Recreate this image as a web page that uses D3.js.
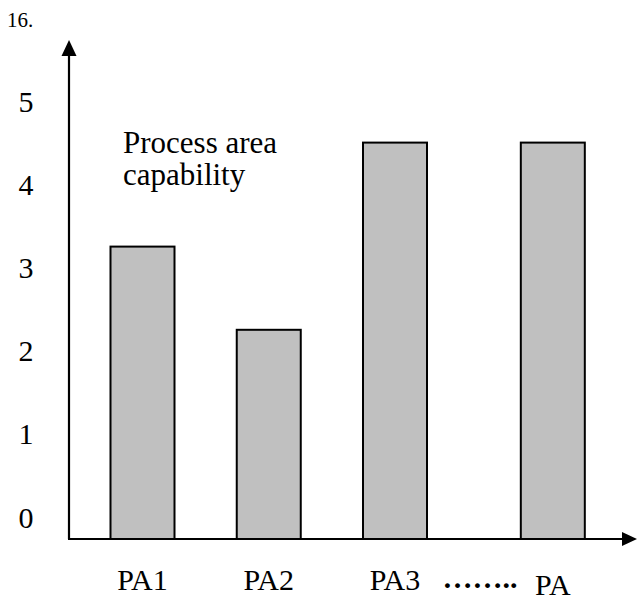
<!DOCTYPE html>
<html>
<head>
<meta charset="utf-8">
<script src="https://cdn.jsdelivr.net/npm/d3@7/dist/d3.min.js"></script>
<style>
  html, body { margin: 0; padding: 0; background: #fff; }
  svg { display: block; font-family: "Liberation Serif", "Times New Roman", serif; }
</style>
</head>
<body>
<svg id="chart" width="637" height="600"></svg>
<script>
// ---- data ----
const categories = ["PA1", "PA2", "PA3", "PA"];
const capability = [3.25, 2.25, 4.5, 4.5];
const yTickLabels = [0, 1, 2, 3, 4, 5];
const figureNumber = "16.";
const seriesLabel = ["Process area", "capability"];
const ellipsisLabel = "\u2026\u2026..";

// ---- layout ----
const svg = d3.select("#chart");
const axisX = 69, axisY = 539;
const y = d3.scaleLinear().domain([0, 5]).range([517, 101]);
// slot index: the last category sits after a gap (the "……" break)
const slotOf = i => (i < 3 ? i : i + 0.25);
const x = d3.scaleLinear().domain([0, 1]).range([142.5, 268.75]);
const barW = 64;

// figure number
svg.append("text").attr("x", 7).attr("y", 27)
  .attr("font-size", 21).text(figureNumber);

// bars
svg.selectAll("rect.bar").data(categories).enter().append("rect")
  .attr("class", "bar")
  .attr("x", (d, i) => x(slotOf(i)) - barW / 2)
  .attr("y", (d, i) => y(capability[i]))
  .attr("width", barW)
  .attr("height", (d, i) => axisY - y(capability[i]))
  .attr("fill", "#c0c0c0")
  .attr("stroke", "#000")
  .attr("stroke-width", 2);

// axes
svg.append("line").attr("x1", axisX).attr("y1", axisY).attr("x2", axisX).attr("y2", 52)
  .attr("stroke", "#000").attr("stroke-width", 2.2);
svg.append("path").attr("d", `M${axisX},40 L${axisX - 7.5},56 L${axisX + 7.5},56 Z`).attr("fill", "#000");
svg.append("line").attr("x1", axisX - 1).attr("y1", axisY).attr("x2", 626).attr("y2", axisY)
  .attr("stroke", "#000").attr("stroke-width", 2.2);
svg.append("path").attr("d", `M637,${axisY} L622,${axisY - 7} L622,${axisY + 7} Z`).attr("fill", "#000");

// y labels
svg.selectAll("text.ylab").data(yTickLabels).enter().append("text")
  .attr("class", "ylab")
  .attr("x", 26).attr("y", d => y(d))
  .attr("dy", "0.35em")
  .attr("text-anchor", "middle")
  .attr("font-size", 30)
  .text(d => d);

// x labels
svg.selectAll("text.xlab").data(categories).enter().append("text")
  .attr("class", "xlab")
  .attr("x", (d, i) => x(slotOf(i)))
  .attr("y", (d, i) => (i < 3 ? 590 : 595))
  .attr("text-anchor", "middle")
  .attr("font-size", 30)
  .text(d => d);

svg.append("text").attr("x", 480).attr("y", 588)
  .attr("text-anchor", "middle")
  .attr("font-size", 30).attr("font-weight", "bold")
  .text(ellipsisLabel);

// series label
svg.selectAll("text.slab").data(seriesLabel).enter().append("text")
  .attr("class", "slab")
  .attr("x", 123).attr("y", (d, i) => 153 + i * 32)
  .attr("font-size", 31)
  .text(d => d);
</script>
</body>
</html>
